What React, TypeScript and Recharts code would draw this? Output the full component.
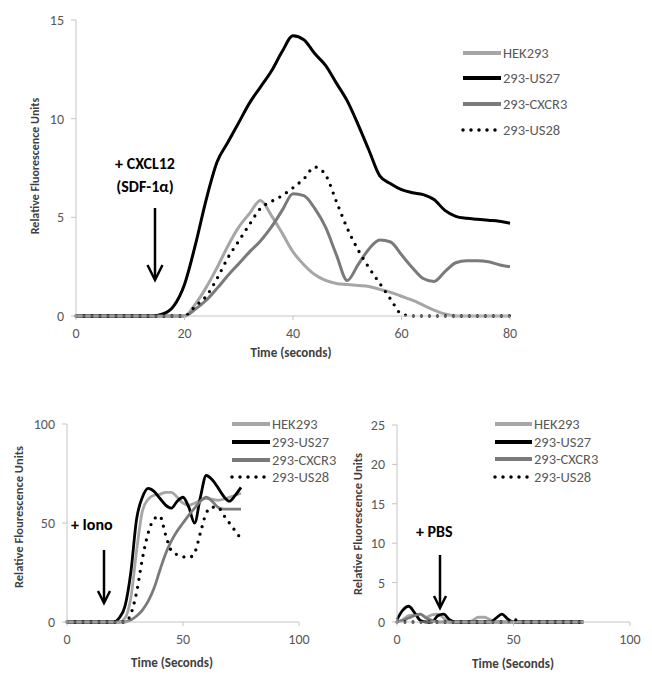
import React from 'react';
import { LineChart, Line, XAxis, YAxis } from 'recharts';

const FONT = 'Carlito, "Liberation Sans Narrow", Lato, sans-serif';
const AXIS_COLOR = '#c4c4c4';
const TEXT_COLOR = '#595959';

const SERIES_NAMES = ['HEK293', '293-US27', '293-CXCR3', '293-US28'];
const SERIES_KEYS = ['hek', 'us27', 'cxcr3', 'us28'];
const SERIES_COLORS = ['#a6a6a6', '#000000', '#7a7a7a', '#000000'];
const SERIES_DOTTED = [false, false, false, true];

// top panel: CXCL12
const TOP_TIME = [0, 2, 4, 6, 8, 10, 12, 14, 16, 18, 20, 22, 24, 26, 28, 30, 32, 34, 36, 38, 40, 42, 44, 46, 48, 50, 52, 54, 56, 58, 60, 62, 64, 66, 68, 70, 72, 74, 76, 78, 80];
const TOP_HEK293 = [0, 0, 0, 0, 0, 0, 0, 0, 0, 0, 0, 0.6, 1.45, 2.45, 3.55, 4.5, 5.2, 5.85, 5.1, 4.2, 3.25, 2.6, 2.1, 1.8, 1.65, 1.6, 1.55, 1.5, 1.35, 1.2, 1.0, 0.8, 0.55, 0.3, 0.1, 0, 0, 0, 0, 0, 0];
const TOP_US27 = [0, 0, 0, 0, 0, 0, 0, 0, 0.1, 0.5, 1.6, 3.6, 5.9, 7.8, 8.8, 9.8, 10.8, 11.6, 12.4, 13.4, 14.2, 14.0, 13.3, 12.7, 11.8, 10.9, 9.7, 8.4, 7.1, 6.7, 6.4, 6.25, 6.15, 5.9, 5.35, 5.05, 4.95, 4.9, 4.85, 4.8, 4.7];
const TOP_CXCR3 = [0, 0, 0, 0, 0, 0, 0, 0, 0, 0, 0, 0.35, 0.8, 1.4, 2.05, 2.65, 3.25, 3.8, 4.5, 5.35, 6.2, 6.1, 5.45, 4.5, 3.1, 1.8, 2.6, 3.4, 3.85, 3.75, 3.1, 2.45, 1.9, 1.75, 2.25, 2.7, 2.8, 2.8, 2.75, 2.6, 2.5];
const TOP_US28 = [0, 0, 0, 0, 0, 0, 0, 0, 0, 0, 0, 0.5, 1.0, 1.9, 2.95, 3.8, 4.65, 5.45, 5.8, 6.1, 6.5, 6.95, 7.55, 7.15, 5.8, 4.45, 3.35, 2.45, 1.65, 0.85, 0.1, 0, 0, 0, 0, 0, 0, 0, 0, 0, 0];
const TOP_X_TICKS = [0, 20, 40, 60, 80];
const TOP_Y_TICKS = [0, 5, 10, 15];

// bottom left: ionomycin
const IONO_TIME = [0, 2.5, 5, 7.5, 10, 12.5, 15, 17.5, 20, 22.5, 25, 27.5, 30, 32.5, 35, 37.5, 40, 42.5, 45, 47.5, 50, 52.5, 55, 57.5, 60, 62.5, 65, 67.5, 70, 72.5, 75];
const IONO_HEK293 = [0, 0, 0, 0, 0, 0, 0, 0, 0, 0, 2, 12, 36, 56, 62, 64, 64.5, 65.5, 65.5, 63, 60, 59, 60, 61.5, 62.5, 62, 61.5, 62, 63, 64, 65];
const IONO_US27 = [0, 0, 0, 0, 0, 0, 0, 0, 0, 2, 8, 25, 52, 63, 67.5, 66, 62.5, 59, 57.5, 61, 63, 58, 50, 63, 74, 72, 68, 63.5, 61, 64, 68];
const IONO_CXCR3 = [0, 0, 0, 0, 0, 0, 0, 0, 0, 0, 0, 1, 3, 6, 10.5, 17, 26, 34.5, 41, 46, 50, 54, 57.5, 61, 63, 61, 58, 57, 57, 57, 57];
const IONO_US28 = [0, 0, 0, 0, 0, 0, 0, 0, 0, 0, 0, 4, 15, 32, 45, 52, 53.5, 44, 36, 34, 33, 32.5, 35, 45, 55, 58, 58, 54, 50, 46, 42];
const IONO_X_TICKS = [0, 50, 100];
const IONO_Y_TICKS = [0, 50, 100];

// bottom right: PBS
const PBS_TIME = [0, 2.5, 5, 7.5, 10, 12.5, 15, 17.5, 20, 22.5, 25, 27.5, 30, 32.5, 35, 37.5, 40, 42.5, 45, 47.5, 50, 52.5, 55, 57.5, 60, 62.5, 65, 67.5, 70, 72.5, 75, 77.5, 80];
const PBS_HEK293 = [0, 0.3, 0.8, 0.9, 1.0, 0.6, 0.9, 1.0, 0.5, 0, 0, 0, 0, 0.2, 0.6, 0.6, 0.3, 0, 0, 0, 0, 0, 0, 0, 0, 0, 0, 0, 0, 0, 0, 0, 0];
const PBS_US27 = [0.3, 1.5, 2.0, 1.2, 0.2, 0, 0, 0.8, 1.0, 0.3, 0, 0, 0, 0, 0, 0, 0, 0.5, 1.0, 0.4, 0, 0, 0, 0, 0, 0, 0, 0, 0, 0, 0, 0, 0];
const PBS_CXCR3 = [0, 0.2, 0.5, 0.8, 1.0, 0.5, 0.2, 0, 0, 0, 0, 0, 0, 0, 0, 0, 0, 0, 0, 0, 0, 0, 0, 0, 0, 0, 0, 0, 0, 0, 0, 0, 0];
const PBS_US28 = [0, 0, 0, 0, 0, 0, 0, 0, 0, 0, 0, 0, 0, 0, 0, 0, 0, 0, 0, 0, 0.4, 0, 0, 0, 0, 0, 0, 0, 0, 0, 0, 0, 0];
const PBS_X_TICKS = [0, 50, 100];
const PBS_Y_TICKS = [0, 5, 10, 15, 20, 25];

function buildRows(time: number[], hek: number[], us27: number[], cxcr3: number[], us28: number[]) {
  return time.map((t, i) => ({ t, hek: hek[i], us27: us27[i], cxcr3: cxcr3[i], us28: us28[i] }));
}

const topRows = buildRows(TOP_TIME, TOP_HEK293, TOP_US27, TOP_CXCR3, TOP_US28);
const ionoRows = buildRows(IONO_TIME, IONO_HEK293, IONO_US27, IONO_CXCR3, IONO_US28);
const pbsRows = buildRows(PBS_TIME, PBS_HEK293, PBS_US27, PBS_CXCR3, PBS_US28);

interface LegendProps {
  x: number;
  rows: number[];
  lineLen: number;
  fontSize: number;
}

function SeriesLegend({ x, rows, lineLen, fontSize }: LegendProps) {
  return (
    <g>
      {SERIES_NAMES.map((name, i) => (
        <g key={name}>
          <line
            x1={x}
            x2={x + lineLen}
            y1={rows[i]}
            y2={rows[i]}
            stroke={SERIES_COLORS[i]}
            strokeWidth={SERIES_DOTTED[i] ? 3.5 : 4}
            strokeDasharray={SERIES_DOTTED[i] ? '0 8' : undefined}
            strokeLinecap={SERIES_DOTTED[i] ? 'round' : 'butt'}
          />
          <text x={x + lineLen + 2} y={rows[i]} dominantBaseline="central" fontSize={fontSize} fill={TEXT_COLOR} fontFamily={FONT}>
            {name}
          </text>
        </g>
      ))}
    </g>
  );
}

function Arrow({ x, y1, y2, head }: { x: number; y1: number; y2: number; head: number }) {
  return (
    <g stroke="#000" strokeWidth={2.5} fill="none">
      <line x1={x} x2={x} y1={y1} y2={y2 - 1} />
      <polyline points={`${x - head / 2},${y2 - head} ${x},${y2} ${x + head / 2},${y2 - head}`} strokeLinejoin="miter" />
    </g>
  );
}

interface PanelProps {
  left: number;
  top: number;
  width: number;
  height: number;
  margin: { top: number; right: number; bottom: number; left: number };
  yWidth: number;
  rows: Record<string, number>[];
  xTicks: number[];
  yTicks: number[];
  stroke: number;
  children?: React.ReactNode;
}

function Panel({ left, top, width, height, margin, yWidth, rows, xTicks, yTicks, stroke, children }: PanelProps) {
  const tick = { fill: TEXT_COLOR, fontSize: 14, fontFamily: FONT };
  return (
    <div style={{ position: 'absolute', left, top, width, height }}>
      <LineChart width={width} height={height} data={rows} margin={margin}>
        <XAxis
          dataKey="t"
          type="number"
          domain={[xTicks[0], xTicks[xTicks.length - 1]]}
          ticks={xTicks}
          height={25}
          stroke={AXIS_COLOR}
          tick={tick}
          tickSize={4}
          tickMargin={8}
          interval={0}
        />
        <YAxis
          type="number"
          domain={[yTicks[0], yTicks[yTicks.length - 1]]}
          ticks={yTicks}
          width={yWidth}
          stroke={AXIS_COLOR}
          tick={tick}
          tickSize={5}
          tickMargin={7}
          interval={0}
        />
        {SERIES_KEYS.map((key, i) => (
          <Line
            key={key}
            dataKey={key}
            type="monotone"
            stroke={SERIES_COLORS[i]}
            strokeWidth={SERIES_DOTTED[i] ? 3.3 : stroke}
            strokeDasharray={SERIES_DOTTED[i] ? '0 8' : undefined}
            strokeLinecap={SERIES_DOTTED[i] ? 'round' : 'butt'}
            dot={false}
            activeDot={false}
            isAnimationActive={false}
          />
        ))}
      </LineChart>
      <svg width={width} height={height} style={{ position: 'absolute', left: 0, top: 0, pointerEvents: 'none', overflow: 'visible' }}>
        {children}
      </svg>
    </div>
  );
}

const labelStyle = { fontFamily: FONT, fontWeight: 700, fill: '#404040' } as const;

export default function App() {
  return (
    <div style={{ position: 'absolute', left: 0, top: 0, width: 652, height: 679, background: '#fff' }}>
      <Panel
        left={0}
        top={0}
        width={652}
        height={370}
        margin={{ top: 20, right: 142, bottom: 29, left: 0 }}
        yWidth={76}
        rows={topRows}
        xTicks={TOP_X_TICKS}
        yTicks={TOP_Y_TICKS}
        stroke={3}
      >
        <text x={35} y={166} transform="rotate(-90 35 166)" textAnchor="middle" dominantBaseline="central" fontSize={12} {...labelStyle}>
          Relative Fluorescence Units
        </text>
        <text x={291} y={352} textAnchor="middle" dominantBaseline="central" fontSize={13} {...labelStyle}>
          Time (seconds)
        </text>
        <text x={145} y={163} textAnchor="middle" dominantBaseline="central" fontSize={16} {...labelStyle} fill="#000">
          + CXCL12
        </text>
        <text x={145} y={186} textAnchor="middle" dominantBaseline="central" fontSize={16} {...labelStyle} fill="#000">
          (SDF-1α)
        </text>
        <Arrow x={155} y1={208} y2={280} head={15} />
        <SeriesLegend x={463} rows={[53, 78, 104, 130]} lineLen={38} fontSize={14.5} />
      </Panel>

      <Panel
        left={330}
        top={380}
        width={322}
        height={299}
        margin={{ top: 45, right: 22, bottom: 32, left: 0 }}
        yWidth={67}
        rows={pbsRows}
        xTicks={PBS_X_TICKS}
        yTicks={PBS_Y_TICKS}
        stroke={2.8}
      >
        <text x={27} y={144} transform="rotate(-90 27 144)" textAnchor="middle" dominantBaseline="central" fontSize={12.5} {...labelStyle}>
          Relative Fluorescence Units
        </text>
        <text x={183} y={283} textAnchor="middle" dominantBaseline="central" fontSize={13} {...labelStyle}>
          Time (Seconds)
        </text>
        <text x={86} y={151} dominantBaseline="central" fontSize={16} {...labelStyle} fill="#000">
          + PBS
        </text>
        <Arrow x={110} y1={175} y2={228} head={12} />
        <SeriesLegend x={165} rows={[44, 62, 79, 97]} lineLen={37} fontSize={14.5} />
      </Panel>

      <Panel
        left={0}
        top={380}
        width={330}
        height={299}
        margin={{ top: 44, right: 31, bottom: 32, left: 0 }}
        yWidth={67}
        rows={ionoRows}
        xTicks={IONO_X_TICKS}
        yTicks={IONO_Y_TICKS}
        stroke={2.8}
      >
        <text x={18} y={137} transform="rotate(-90 18 137)" textAnchor="middle" dominantBaseline="central" fontSize={12.5} {...labelStyle}>
          Relative Flourescence Units
        </text>
        <text x={172} y={282} textAnchor="middle" dominantBaseline="central" fontSize={13} {...labelStyle}>
          Time (Seconds)
        </text>
        <text x={71} y={144} dominantBaseline="central" fontSize={16} {...labelStyle} fill="#000">
          + Iono
        </text>
        <Arrow x={104} y1={170} y2={223} head={12} />
        <SeriesLegend x={232} rows={[44, 62, 80, 97]} lineLen={38} fontSize={14.5} />
      </Panel>
    </div>
  );
}
